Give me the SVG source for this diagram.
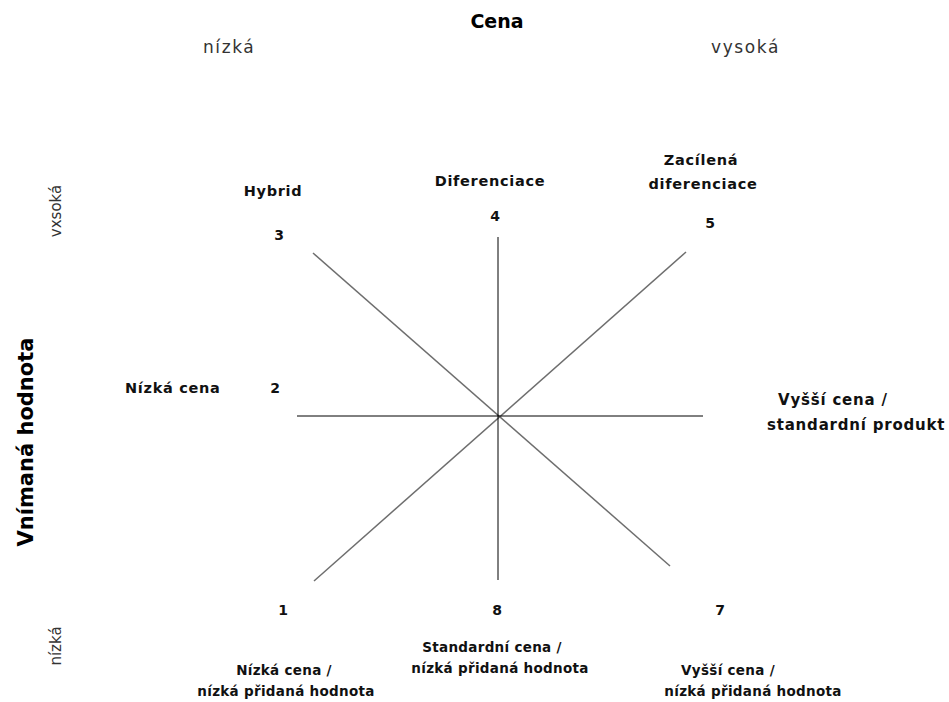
<svg xmlns="http://www.w3.org/2000/svg" width="949" height="702" viewBox="0 0 949 702">
  <style>
    .lbl { font-family: "DejaVu Sans", Verdana, sans-serif; font-size: 14.5px; font-weight: bold; fill: #111; letter-spacing: 0.7px; }
    .low { font-size: 13.5px; letter-spacing: 0.3px; }
    .wide { font-size: 15px; letter-spacing: 0.8px; }
    .num { font-family: "DejaVu Sans", Verdana, sans-serif; font-size: 14px; font-weight: bold; fill: #111; text-anchor: middle; }
    .axis { font-family: "DejaVu Sans", Verdana, sans-serif; font-size: 17px; font-weight: normal; fill: #333; letter-spacing: 1.6px; }
    .vaxis { font-family: "DejaVu Sans", Verdana, sans-serif; font-size: 15px; font-weight: normal; fill: #333; }
    .title { font-family: "DejaVu Sans", Verdana, sans-serif; font-weight: bold; fill: #000; }
    .m { text-anchor: middle; }
    .diag { stroke: #6e6e6e; stroke-width: 1.5; fill: none; }
    .ortho { stroke: #000; stroke-width: 1; fill: none; }
  </style>
  <rect width="949" height="702" fill="#fff"/>

  <!-- axis titles -->
  <g id="axis-price">
    <text class="title m" x="497" y="28" font-size="19">Cena</text>
    <text class="axis" x="203" y="53">nízká</text>
    <text class="axis" x="711" y="53">vysoká</text>
  </g>
  <g id="axis-value">
    <text class="title m" transform="translate(33,442) rotate(-90)" font-size="21">Vnímaná hodnota</text>
    <text class="vaxis m" transform="translate(61,211) rotate(-90)">vxsoká</text>
    <text class="vaxis m" transform="translate(61,646) rotate(-90)">nízká</text>
  </g>

  <!-- strategy spokes -->
  <g id="connectors">
    <line class="diag" x1="313" y1="253" x2="670" y2="566"/>
    <line class="diag" x1="314" y1="581" x2="686" y2="252"/>
    <line class="ortho" x1="498" y1="237" x2="498" y2="580"/>
    <line class="ortho" x1="297" y1="416" x2="703" y2="416"/>
  </g>

  <g id="node-3">
    <text class="lbl m" x="273" y="196">Hybrid</text>
    <text class="num" x="279" y="240">3</text>
  </g>
  <g id="node-4">
    <text class="lbl m" x="490" y="186">Diferenciace</text>
    <text class="num" x="495" y="221">4</text>
  </g>
  <g id="node-5">
    <text class="lbl m" x="701" y="165">Zacílená</text>
    <text class="lbl m" x="703" y="189">diferenciace</text>
    <text class="num" x="710" y="228">5</text>
  </g>
  <g id="node-2">
    <text class="lbl" x="125" y="393">Nízká cena</text>
    <text class="num" x="275" y="393">2</text>
  </g>
  <g id="node-6">
    <text class="lbl wide" x="778" y="405">Vyšší cena /</text>
    <text class="lbl wide" x="767" y="430">standardní produkt</text>
  </g>
  <g id="node-1">
    <text class="num" x="283" y="615">1</text>
    <text class="lbl low m" x="284" y="675">Nízká cena /</text>
    <text class="lbl low m" x="286" y="696">nízká přidaná hodnota</text>
  </g>
  <g id="node-8">
    <text class="num" x="497" y="615">8</text>
    <text class="lbl low m" x="492" y="652">Standardní cena /</text>
    <text class="lbl low m" x="500" y="673">nízká přidaná hodnota</text>
  </g>
  <g id="node-7">
    <text class="num" x="720" y="615">7</text>
    <text class="lbl low m" x="728" y="675">Vyšší cena /</text>
    <text class="lbl low m" x="753" y="696">nízká přidaná hodnota</text>
  </g>
</svg>
